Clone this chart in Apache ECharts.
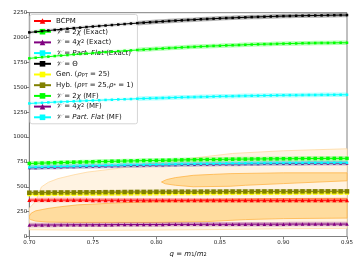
<!DOCTYPE html>
<html><head><meta charset="utf-8">
<script src="https://cdn.jsdelivr.net/npm/echarts@6/dist/echarts.min.js"></script>
<style>html,body{margin:0;padding:0;background:#fff}#c{width:358px;height:257px}</style>
</head><body><div id="c"></div>
<script>
var qValues = [0.700,0.705,0.710,0.715,0.720,0.725,0.730,0.735,0.740,0.745,0.750,0.755,0.760,0.765,0.770,0.775,0.780,0.785,0.790,0.795,0.800,0.805,0.810,0.815,0.820,0.825,0.830,0.835,0.840,0.845,0.850,0.855,0.860,0.865,0.870,0.875,0.880,0.885,0.890,0.895,0.900,0.905,0.910,0.915,0.920,0.925,0.930,0.935,0.940,0.945,0.950];
var bcpm = [366,366,366,366,366,366,366,366,366,366,365,365,365,365,365,365,365,365,365,365,365,365,365,365,365,365,365,365,365,365,364,364,364,364,364,364,364,364,364,364,364,364,364,364,364,364,364,364,364,364,364];
var twoChiExact = [1791,1797,1803,1808,1814,1819,1824,1830,1835,1840,1844,1849,1854,1858,1863,1867,1871,1875,1879,1883,1887,1890,1894,1897,1901,1904,1907,1910,1913,1916,1918,1921,1923,1925,1928,1930,1932,1934,1935,1937,1939,1940,1941,1943,1944,1945,1946,1946,1947,1948,1948];
var fourChi2Exact = [690,692,693,695,697,698,700,701,703,704,706,707,709,710,711,713,714,715,716,718,719,720,721,722,723,724,725,726,726,727,728,729,730,730,731,732,732,733,733,734,734,735,735,735,736,736,736,737,737,737,737];
var partFlatExact = [1338,1341,1344,1348,1351,1354,1356,1359,1362,1365,1368,1370,1373,1375,1378,1380,1382,1385,1387,1389,1391,1393,1395,1397,1399,1401,1402,1404,1405,1407,1409,1410,1411,1413,1414,1415,1416,1417,1418,1419,1420,1421,1421,1422,1423,1423,1424,1424,1425,1425,1425];
var theta = [2052,2058,2065,2071,2077,2083,2089,2095,2100,2106,2111,2116,2121,2126,2131,2136,2141,2145,2150,2154,2158,2162,2166,2170,2173,2177,2180,2184,2187,2190,2193,2196,2198,2201,2203,2206,2208,2210,2212,2214,2216,2217,2219,2220,2221,2222,2223,2224,2225,2226,2226];
var gen = [425,426,426,427,427,428,428,428,429,429,430,430,431,431,431,432,432,433,433,433,434,434,434,435,435,435,435,436,436,436,436,437,437,437,437,437,438,438,438,438,438,438,438,439,439,439,439,439,439,439,439];
var hyb = [440,441,441,442,442,443,443,443,444,444,445,445,446,446,446,447,447,448,448,448,449,449,449,450,450,450,450,451,451,451,451,452,452,452,452,452,453,453,453,453,453,453,453,454,454,454,454,454,454,454,454];
var twoChiMF = [734,736,738,740,741,743,745,747,748,750,751,753,754,756,757,759,760,761,763,764,765,766,767,769,770,771,772,773,774,774,775,776,777,778,778,779,780,780,781,781,782,782,783,783,784,784,784,785,785,785,785];
var fourChi2MF = [115,115,116,116,116,117,117,118,118,118,118,119,119,119,120,120,120,120,121,121,121,121,122,122,122,122,122,123,123,123,123,123,123,124,124,124,124,124,124,124,124,125,125,125,125,125,125,125,125,125,125];
var partFlatMF = [695,697,698,700,702,703,705,706,708,709,711,712,714,715,716,718,719,720,721,723,724,725,726,727,728,729,730,731,731,732,733,734,735,735,736,737,737,738,738,739,739,740,740,740,741,741,741,742,742,742,742];

var outerContour = [[0.700,285],[0.7047,348],[0.7075,430],[0.7095,498],[0.715,545],[0.7226,582],[0.735,620],[0.746,648],[0.77,685],[0.80,740],[0.83,790],[0.86,835],[0.90,862],[0.95,882],[0.95,82],[0.90,78],[0.85,70],[0.80,65],[0.75,62],[0.70,68]];
var lowerDark = [[0.7,205],[0.7015,235],[0.705,258],[0.7147,282],[0.725,300],[0.738,318],[0.77,338],[0.80,352],[0.816,360],[0.85,375],[0.90,382],[0.95,385],[0.95,185],[0.90,180],[0.87,170],[0.84,150],[0.80,142],[0.77,142],[0.74,142],[0.7147,145],[0.705,155],[0.701,170],[0.70,180]];
var upperDark = [[0.804,548],[0.808,572],[0.815,592],[0.829,615],[0.845,625],[0.858,632],[0.90,640],[0.95,640],[0.95,560],[0.90,532],[0.87,515],[0.858,505],[0.829,500],[0.815,515],[0.807,530]];

var yTicks = [0,250,500,750,1000,1250,1500,1750,2000,2250];

function pairs(arr){ return arr.map(function(v,i){ return [qValues[i], v]; }); }

var defs = [
  {name:'BCPM', data:bcpm, color:'#ff0000', symbol:'triangle', size:4},
  {name:'2chiE', data:twoChiExact, color:'#00ff00', symbol:'rect', size:2.5},
  {name:'4chiE', data:fourChi2Exact, color:'#800080', symbol:'triangle', size:3},
  {name:'pfE', data:partFlatExact, color:'#00ffff', symbol:'rect', size:2.5},
  {name:'theta', data:theta, color:'#000000', symbol:'rect', size:2.5},
  {name:'gen', data:gen, color:'#ffff00', symbol:'rect', size:4},
  {name:'hyb', data:hyb, color:'#808000', symbol:'rect', size:4.5},
  {name:'2chiM', data:twoChiMF, color:'#00ff00', symbol:'rect', size:3.5},
  {name:'4chiM', data:fourChi2MF, color:'#800080', symbol:'triangle', size:3.5},
  {name:'pfM', data:partFlatMF, color:'#00ffff', symbol:'rect', size:2.5}
];
var labels = {
  'BCPM':'BCPM',
  '2chiE':'{v|𝒱} = 2{i|χ} (Exact)',
  '4chiE':'{v|𝒱} = 4{i|χ}{sup|2} (Exact)',
  'pfE':'{v|𝒱} = {i|Part. Flat} (Exact)',
  'theta':'{v|𝒱} = Θ',
  'gen':'Gen. ({i|ρ}{sub|PT} = 25)',
  'hyb':'Hyb. ({i|ρ}{sub|PT} = 25,{i|ρ}{sub|*} = 1)',
  '2chiM':'{v|𝒱} = 2{i|χ} (MF)',
  '4chiM':'{v|𝒱} = 4{i|χ}{sup|2} (MF)',
  'pfM':'{v|𝒱} = {i|Part. Flat} (MF)'
};

function polySeries(pts, fill, stroke, z){
  return {type:'custom', silent:true, z:z, clip:true, data:[[0.8,400]],
    renderItem:function(params, api){
      var p = pts.map(function(d){ return api.coord(d); });
      return {type:'polygon', shape:{points:p}, style:{fill:fill, stroke:stroke, lineWidth:0.8}};
    }};
}

var series = [
  polySeries(outerContour, '#fff3e2', '#ffd9a0', 1),
  polySeries(lowerDark, '#ffdc9e', '#ffb547', 2),
  polySeries(upperDark, '#ffdc9e', '#ffb547', 2)
];
defs.forEach(function(d){
  series.push({type:'line', name:'band_'+d.name, data:pairs(d.data), symbol:'none', silent:true, z:3,
    lineStyle:{color:d.color, width:4.5, opacity:0.3}, animation:false});
});
defs.forEach(function(d){
  series.push({type:'line', name:d.name, data:pairs(d.data), symbol:d.symbol, symbolSize:d.size, z:4,
    itemStyle:{color:d.color}, lineStyle:{color:d.color, width:1}, animation:false});
});

var chart = echarts.init(document.getElementById('c'), null, {renderer:'canvas'});
chart.setOption({
  animation:false,
  grid:{left:29.3, right:11, top:12.7, bottom:20.5, show:true, borderColor:'#808080', borderWidth:1, containLabel:false, outerBoundsMode:'none'},
  xAxis:{type:'value', min:0.70, max:0.95, interval:0.05,
    name:'{i|q} = {i|m}{s|1}/{i|m}{s|2}', nameLocation:'middle', nameGap:12,
    nameTextStyle:{fontSize:7, color:'#111', fontFamily:'DejaVu Sans', rich:{i:{fontStyle:'italic', fontSize:7}, s:{fontSize:5, verticalAlign:'bottom'}}},
    axisLine:{show:true, lineStyle:{color:'#808080', width:1}},
    axisTick:{show:true, length:3, lineStyle:{color:'#808080'}},
    axisLabel:{fontSize:5.5, color:'#222', margin:3, fontFamily:'DejaVu Sans', formatter:function(v){return v.toFixed(2);}},
    splitLine:{show:false}},
  yAxis:{type:'value', min:yTicks[0], max:yTicks[yTicks.length-1], interval:250,
    name:'Λ̂', nameLocation:'middle', nameGap:19, nameRotate:90,
    nameTextStyle:{fontSize:8, color:'#111', fontFamily:'DejaVu Sans'},
    axisLine:{show:true, lineStyle:{color:'#808080', width:1}},
    axisTick:{show:true, length:3, lineStyle:{color:'#808080'}},
    axisLabel:{fontSize:5.5, color:'#222', margin:2, fontFamily:'DejaVu Sans', formatter:function(v){return String(v);}},
    splitLine:{show:false}},
  legend:{orient:'vertical', left:30, top:14.5, padding:[3,4,3,3], itemWidth:17, itemHeight:7, itemGap:3.7,
    data:defs.map(function(d){return d.name;}),
    backgroundColor:'rgba(255,255,255,0.8)', borderColor:'#d5d5d5', borderWidth:1, borderRadius:2,
    formatter:function(n){ return labels[n]; },
    textStyle:{fontSize:7, color:'#111', fontFamily:'DejaVu Sans', lineHeight:7,
      rich:{v:{fontStyle:'italic', fontSize:7, fontFamily:'DejaVu Serif'}, i:{fontStyle:'italic', fontSize:7}, sub:{fontSize:5, verticalAlign:'bottom'}, sup:{fontSize:5, verticalAlign:'top'}}}},
  series:series
});
</script></body></html>
